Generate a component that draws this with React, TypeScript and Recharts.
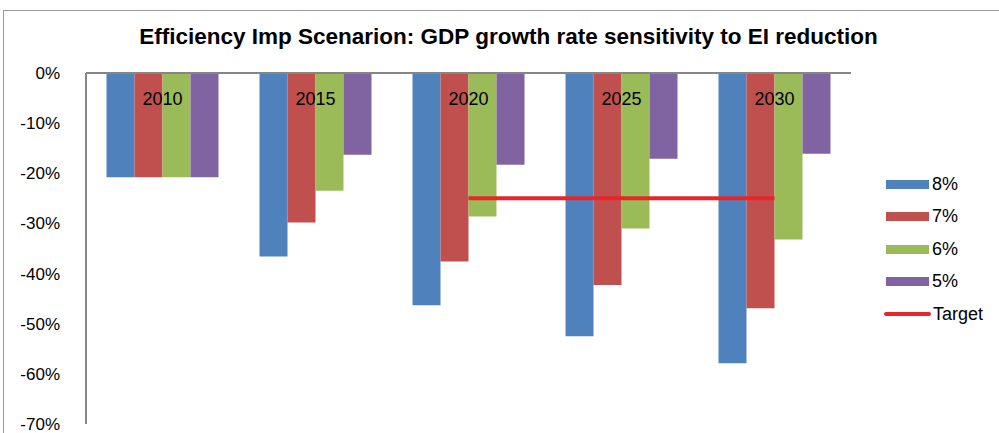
import { Bar, ComposedChart, Line, XAxis, YAxis } from "recharts";

const years = ["2010", "2015", "2020", "2025", "2030"];
const rate8 = [-20.8, -36.6, -46.3, -52.5, -57.9];
const rate7 = [-20.8, -29.8, -37.6, -42.3, -46.9];
const rate6 = [-20.8, -23.5, -28.6, -31.0, -33.2];
const rate5 = [-20.8, -16.3, -18.3, -17.1, -16.1];
const target = [null, null, -25, -25, -25];
const yTicks = [0, -10, -20, -30, -40, -50, -60, -70];

const series = [
  { key: "r8", name: "8%", color: "#4F81BD" },
  { key: "r7", name: "7%", color: "#C0504D" },
  { key: "r6", name: "6%", color: "#9BBB59" },
  { key: "r5", name: "5%", color: "#8064A2" },
];

const data = years.map((year, i) => ({
  year,
  r8: rate8[i],
  r7: rate7[i],
  r6: rate6[i],
  r5: rate5[i],
  target: target[i],
}));

const FONT = "'Liberation Sans', Arial, sans-serif";

function YearTick(props: { x?: number; y?: number; payload?: { value: string } }) {
  const { x = 0, y = 0, payload } = props;
  return (
    <text x={x} y={y + 40} textAnchor="middle" fontSize={18} fill="#000" fontFamily={FONT}>
      {payload?.value}
    </text>
  );
}

function LegendBox() {
  return (
    <div style={{ position: "absolute", left: 886, top: 168, fontFamily: FONT, fontSize: 18, color: "#000" }}>
      {series.map((s) => (
        <div key={s.key} style={{ display: "flex", alignItems: "center", height: 32.5 }}>
          <span style={{ display: "inline-block", width: 43, height: 9, background: s.color, marginRight: 3 }} />
          {s.name}
        </div>
      ))}
      <div style={{ display: "flex", alignItems: "center", height: 32.5 }}>
        <span
          style={{ display: "inline-block", width: 47, height: 4, borderRadius: 2, background: "#E8262A", marginLeft: -2, marginRight: 2 }}
        />
        Target
      </div>
    </div>
  );
}

export default function App() {
  return (
    <div style={{ position: "absolute", left: 0, top: 0, width: 999, height: 433, background: "#fff", overflow: "hidden" }}>
      <div
        style={{ position: "absolute", left: 3, top: 10, width: 1000, height: 430, border: "1px solid #999", boxSizing: "border-box" }}
      />
      <div
        style={{
          position: "absolute",
          left: 86,
          width: 845,
          top: 24,
          textAlign: "center",
          fontFamily: FONT,
          fontWeight: "bold",
          fontSize: 22.5,
          color: "#000",
        }}
      >
        Efficiency Imp Scenarion: GDP growth rate sensitivity to EI reduction
      </div>
      <ComposedChart
        width={999}
        height={433}
        data={data}
        margin={{ top: 43, right: 148, bottom: 9, left: 0 }}
        barCategoryGap="13.4%"
        barGap={0}
        style={{ position: "absolute", left: 0, top: 0 }}
      >
        <XAxis
          dataKey="year"
          orientation="top"
          height={30}
          axisLine={{ stroke: "#868686", strokeWidth: 2 }}
          tickLine={false}
          tick={<YearTick />}
          interval={0}
        />
        <YAxis
          domain={[-70, 0]}
          ticks={yTicks}
          width={86}
          axisLine={{ stroke: "#868686", strokeWidth: 2 }}
          tickLine={false}
          tickMargin={20}
          tickFormatter={(v) => `${v}%`}
          tick={{ fontSize: 17, fill: "#000", fontFamily: FONT }}
          interval={0}
        />
        {series.map((s) => (
          <Bar key={s.key} dataKey={s.key} name={s.name} fill={s.color} isAnimationActive={false} />
        ))}
        <Line
          dataKey="target"
          name="Target"
          stroke="#E8262A"
          strokeWidth={4}
          dot={false}
          connectNulls={false}
          isAnimationActive={false}
        />
      </ComposedChart>
      <LegendBox />
    </div>
  );
}
